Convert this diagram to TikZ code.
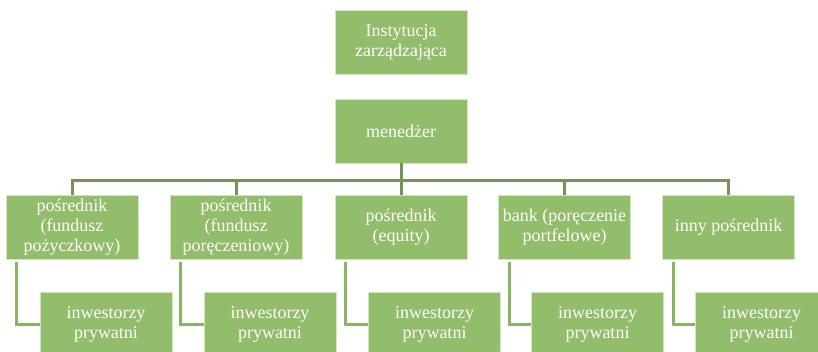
\documentclass[tikz,border=0pt]{standalone}
\usepackage{fontspec}
\setmainfont{Liberation Serif}
\definecolor{boxgreen}{RGB}{146,189,106}
\definecolor{linegreen}{RGB}{118,148,88}
\definecolor{childline}{RGB}{137,180,98}
\begin{document}
\begin{tikzpicture}[x=1pt,y=-1pt,
  box/.style={fill=boxgreen, draw=white!60!boxgreen, line width=0.6pt,
    minimum width=132pt, minimum height=64pt, inner sep=2pt,
    align=center, text=white, font=\fontsize{18}{20}\selectfont},
  mainline/.style={draw=linegreen, line width=3pt},
  subline/.style={draw=childline, line width=3pt}]
\useasboundingbox (0,0) rectangle (818,351);
\clip (0,0) rectangle (818,351);
\node[box] (top) at (401,42) {Instytucja\\zarządzająca};
\node[box] (men) at (401,131) {menedżer};
\node[box] (p1) at (72,227) {pośrednik\\(fundusz\\pożyczkowy)};
\node[box] (p2) at (236,227) {pośrednik\\(fundusz\\poręczeniowy)};
\node[box] (p3) at (401,227) {pośrednik\\(equity)};
\node[box] (p4) at (564.5,227) {bank (poręczenie\\portfelowe)};
\node[box] (p5) at (728.5,227) {inny pośrednik};
\node[box] (c1) at (106,324) {inwestorzy\\prywatni};
\node[box] (c2) at (270,324) {inwestorzy\\prywatni};
\node[box] (c3) at (434.5,324) {inwestorzy\\prywatni};
\node[box] (c4) at (597.5,324) {inwestorzy\\prywatni};
\node[box] (c5) at (761.5,324) {inwestorzy\\prywatni};
\coordinate (bus) at (0,180);
\draw[mainline] (men.south) -- (men.south |- bus);
\draw[mainline] (p1.north) -- (p1.north |- bus) -- (p5.north |- bus) -- (p5.north);
\foreach \n in {p2,p3,p4}{
  \draw[mainline] (\n.north) -- (\n.north |- bus);
}
\foreach \p/\c in {p1/c1,p2/c2,p3/c3,p4/c4,p5/c5}{
  \draw[subline] ([xshift=11pt,yshift=-3pt]\p.south west) |- (\c.west);
}
\end{tikzpicture}
\end{document}
